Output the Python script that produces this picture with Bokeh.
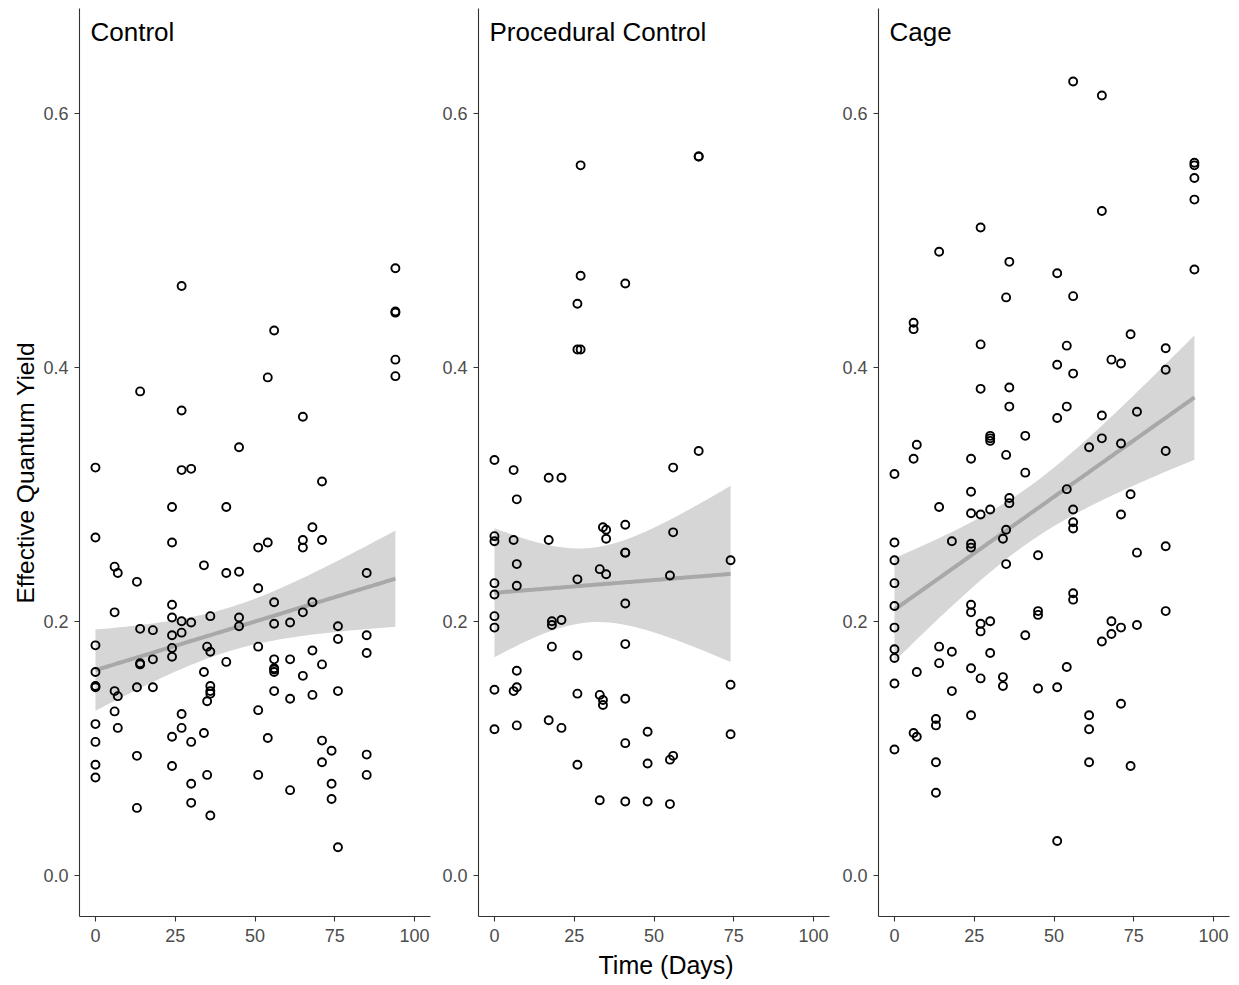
import numpy as np
from bokeh.plotting import figure
from bokeh.layouts import row
from bokeh.models import Range1d, FixedTicker, PrintfTickFormatter, Label, Title
from bokeh.embed import file_html
from bokeh.resources import INLINE

# ---------------- data ----------------
panel_names = ["Control", "Procedural Control", "Cage"]
x_ticks = [0, 25, 50, 75, 100]
y_ticks = [0.0, 0.2, 0.4, 0.6]
x_title = "Time (Days)"
y_title = "Effective Quantum Yield"

ctrl_day = ([0] * 10 + [6] * 4 + [7] * 3 + [13] * 4 + [14] * 4 + [18] * 3 + [24] * 9 + [27] * 7 + [30] * 5
            + [34] * 3 + [35] * 3 + [36] * 6 + [41] * 3 + [45] * 4 + [51] * 5 + [54] * 3 + [56] * 8 + [61] * 4
            + [65] * 5 + [68] * 4 + [71] * 5 + [74] * 3 + [76] * 4 + [85] * 5 + [94] * 5)
ctrl_yield = [0.321, 0.266, 0.181, 0.160, 0.149, 0.148, 0.119, 0.105, 0.087, 0.077,
              0.243, 0.207, 0.145, 0.129,
              0.238, 0.141, 0.116,
              0.231, 0.148, 0.094, 0.053,
              0.381, 0.194, 0.167, 0.166,
              0.193, 0.170, 0.148,
              0.290, 0.262, 0.213, 0.203, 0.189, 0.179, 0.172, 0.109, 0.086,
              0.464, 0.366, 0.319, 0.200, 0.191, 0.127, 0.116,
              0.320, 0.199, 0.105, 0.072, 0.057,
              0.244, 0.160, 0.112,
              0.180, 0.137, 0.079,
              0.204, 0.176, 0.149, 0.145, 0.143, 0.047,
              0.290, 0.238, 0.168,
              0.337, 0.239, 0.203, 0.196,
              0.258, 0.226, 0.180, 0.130, 0.079,
              0.392, 0.262, 0.108,
              0.429, 0.215, 0.198, 0.170, 0.163, 0.162, 0.160, 0.145,
              0.199, 0.170, 0.139, 0.067,
              0.361, 0.264, 0.258, 0.207, 0.157,
              0.274, 0.215, 0.177, 0.142,
              0.310, 0.264, 0.166, 0.106, 0.089,
              0.098, 0.072, 0.060,
              0.196, 0.186, 0.145, 0.022,
              0.238, 0.189, 0.175, 0.095, 0.079,
              0.478, 0.444, 0.443, 0.406, 0.393]

# sampling events come in triplicate: one point on day 41 and one on day 64
# are hidden under identical readings
proc_day = ([0] * 9 + [6] * 3 + [7] * 6 + [17] * 3 + [18] * 3 + [21] * 3 + [26] * 6 + [27] * 3 + [33] * 3
            + [34] * 3 + [35] * 3 + [41] * 9 + [48] * 3 + [55] * 3 + [56] * 3 + [64] * 3 + [74] * 3)
proc_yield = [0.327, 0.267, 0.263, 0.230, 0.221, 0.204, 0.195, 0.146, 0.115,
              0.319, 0.264, 0.145,
              0.296, 0.245, 0.228, 0.161, 0.148, 0.118,
              0.313, 0.264, 0.122,
              0.200, 0.197, 0.180,
              0.313, 0.201, 0.116,
              0.450, 0.414, 0.233, 0.173, 0.143, 0.087,
              0.559, 0.472, 0.414,
              0.241, 0.142, 0.059,
              0.274, 0.138, 0.134,
              0.272, 0.265, 0.237,
              0.466, 0.276, 0.254, 0.254, 0.214, 0.182, 0.139, 0.104, 0.058,
              0.113, 0.088, 0.058,
              0.236, 0.091, 0.056,
              0.321, 0.270, 0.094,
              0.566, 0.566, 0.334,
              0.248, 0.150, 0.111]

cage_day = ([0] * 10 + [6] * 4 + [7] * 3 + [13] * 4 + [14] * 4 + [18] * 3 + [24] * 9 + [27] * 7 + [30] * 6
            + [34] * 3 + [35] * 4 + [36] * 5 + [41] * 3 + [45] * 4 + [51] * 5 + [54] * 4 + [56] * 8 + [61] * 4
            + [65] * 5 + [68] * 3 + [71] * 5 + [74] * 3 + [76] * 3 + [85] * 5 + [94] * 5)
cage_yield = [0.316, 0.262, 0.248, 0.230, 0.212, 0.195, 0.178, 0.171, 0.151, 0.099,
              0.435, 0.430, 0.328, 0.112,
              0.339, 0.160, 0.109,
              0.123, 0.118, 0.089, 0.065,
              0.491, 0.290, 0.180, 0.167,
              0.263, 0.176, 0.145,
              0.328, 0.302, 0.285, 0.261, 0.258, 0.213, 0.207, 0.163, 0.126,
              0.510, 0.418, 0.383, 0.284, 0.198, 0.192, 0.155,
              0.346, 0.344, 0.342, 0.288, 0.200, 0.175,
              0.265, 0.156, 0.149,
              0.455, 0.331, 0.272, 0.245,
              0.483, 0.384, 0.369, 0.297, 0.293,
              0.346, 0.317, 0.189,
              0.252, 0.208, 0.205, 0.147,
              0.474, 0.402, 0.360, 0.148, 0.027,
              0.417, 0.369, 0.304, 0.164,
              0.625, 0.456, 0.395, 0.288, 0.278, 0.273, 0.222, 0.217,
              0.337, 0.126, 0.115, 0.089,
              0.614, 0.523, 0.362, 0.344, 0.184,
              0.406, 0.200, 0.190,
              0.403, 0.340, 0.284, 0.195, 0.135,
              0.426, 0.300, 0.086,
              0.365, 0.254, 0.197,
              0.415, 0.398, 0.334, 0.259, 0.208,
              0.561, 0.559, 0.549, 0.532, 0.477]

panels = [(ctrl_day, ctrl_yield), (proc_day, proc_yield), (cage_day, cage_yield)]

# ---------------- styling / layout ----------------
FONT = "Liberation Sans"
X_LO, X_HI = -5, 105
Y_LO, Y_HI = -0.0325, 0.6825
FW, FH = 351, 908
borders = [(79, 8), (40, 9), (40, 2)]


def lm_band(x, y, n_pts=100, t=1.98):
    x = np.asarray(x, float)
    y = np.asarray(y, float)
    n = len(x)
    xb = x.mean()
    sxx = ((x - xb) ** 2).sum()
    b = ((x - xb) * (y - y.mean())).sum() / sxx
    a = y.mean() - b * xb
    s = np.sqrt(((y - (a + b * x)) ** 2).sum() / (n - 2))
    xs = np.linspace(x.min(), x.max(), n_pts)
    yh = a + b * xs
    se = s * np.sqrt(1.0 / n + (xs - xb) ** 2 / sxx)
    return xs, yh, yh - t * se, yh + t * se


figs = []
for i, (name, (xd, yd)) in enumerate(zip(panel_names, panels)):
    bl, br = borders[i]
    p = figure(frame_width=FW, frame_height=FH,
               x_range=Range1d(X_LO, X_HI), y_range=Range1d(Y_LO, Y_HI),
               output_backend="svg", toolbar_location=None,
               min_border_left=bl, min_border_right=br,
               min_border_top=8, min_border_bottom=69)
    p.outline_line_color = None
    p.xgrid.visible = False
    p.ygrid.visible = False
    p.background_fill_color = "white"
    p.border_fill_color = "white"

    xs, yh, lo, hi = lm_band(xd, yd)
    p.varea(x=xs, y1=lo, y2=hi, fill_color="#d6d6d6", fill_alpha=1.0)
    p.line(xs, yh, line_color="#a8a8a8", line_width=4)
    p.scatter(xd, yd, marker="circle", size=8, fill_color=None,
              line_color="black", line_width=1.9)

    for ax in (p.xaxis[0], p.yaxis[0]):
        ax.axis_line_color = "#333333"
        ax.axis_line_width = 1.1
        ax.major_tick_line_color = "#333333"
        ax.major_tick_line_width = 1.1
        ax.major_tick_in = 0
        ax.major_tick_out = 5
        ax.minor_tick_line_color = None
        ax.major_label_text_font = FONT
        ax.major_label_text_font_size = "18px"
        ax.major_label_text_color = "#4d4d4d"
    p.xaxis.ticker = FixedTicker(ticks=x_ticks)
    p.yaxis.ticker = FixedTicker(ticks=y_ticks)
    p.xaxis.formatter = PrintfTickFormatter(format="%d")
    p.yaxis.formatter = PrintfTickFormatter(format="%.1f")
    p.xaxis.major_label_standoff = 7
    p.yaxis.major_label_standoff = 6

    if i == 0:
        p.add_layout(Title(text=y_title, align="left", offset=313, standoff=4,
                           text_font=FONT, text_font_size="24.5px",
                           text_font_style="normal", text_color="black"), "left")

    ppx = FW / (X_HI - X_LO)
    ppy = FH / (Y_HI - Y_LO)
    p.add_layout(Label(x=X_LO + 11 / ppx, y=Y_HI - 23 / ppy, text=name,
                       text_font=FONT, text_font_size="26px", text_color="black",
                       text_align="left", text_baseline="middle"))
    if i == 1:
        p.add_layout(Title(text=x_title, align="left", offset=120, standoff=8,
                           text_font=FONT, text_font_size="25px",
                           text_font_style="normal", text_color="black"), "below")
    figs.append(p)

layout = row(*figs, spacing=0)
open("out.html", "w").write(file_html(layout, INLINE))
